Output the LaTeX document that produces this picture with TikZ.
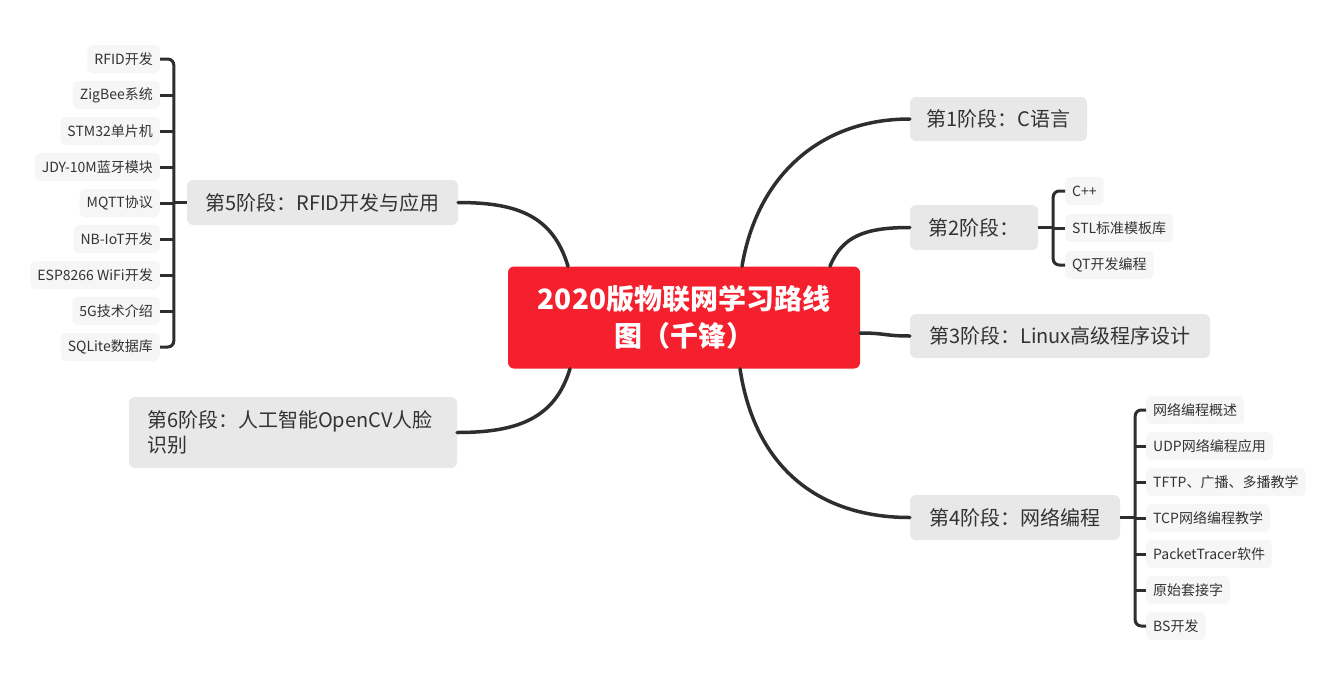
\documentclass[tikz,border=0pt]{standalone}
\usepackage{fontspec}
\setmainfont{Noto Sans CJK SC}
\definecolor{cred}{RGB}{245,32,45}
\definecolor{sgray}{RGB}{232,232,232}
\definecolor{lgray}{RGB}{246,246,246}
\definecolor{tcol}{RGB}{51,51,51}
\definecolor{lcol}{RGB}{46,46,46}
\begin{document}
\begin{tikzpicture}[x=1pt,y=-1pt,
  central/.style={fill=cred, rounded corners=6pt, text=white, font=\fontsize{28}{37}\selectfont\bfseries, align=center, inner sep=0pt},
  stage/.style={fill=sgray, rounded corners=6pt, text=tcol, font=\fontsize{20}{25}\selectfont, inner sep=0pt, align=center},
  leaf/.style={fill=lgray, rounded corners=5pt, text=tcol, font=\fontsize{14}{17}\selectfont, inner xsep=7pt, inner ysep=0pt, minimum height=28pt},
  conn/.style={draw=lcol, line width=3.5pt, line cap=round},
  brk/.style={draw=lcol, line width=3pt, rounded corners=6pt}]
\useasboundingbox (0,0) rectangle (1323,678);

% central
\node[central, minimum width=352pt, minimum height=102pt] (cn) at (684,317.5) {2020版物联网学习路线\\图（千锋）};

% stages
\node[stage, minimum width=177pt, minimum height=44pt] (s1) at (998.5,119) {第1阶段：C语言};
\node[stage, minimum width=128pt, minimum height=45pt] (s2) at (974,227.5) {第2阶段：};
\node[stage, minimum width=300pt, minimum height=44pt] (s3) at (1060,336) {第3阶段：Linux高级程序设计};
\node[stage, minimum width=210pt, minimum height=45pt] (s4) at (1015,517.5) {第4阶段：网络编程};
\node[stage, minimum width=271pt, minimum height=45pt] (s5) at (322.5,202.5) {第5阶段：RFID开发与应用};
\node[stage, minimum width=328pt, minimum height=71pt, align=left, text width=292pt] (s6) at (293,432.5) {第6阶段：人工智能OpenCV人脸\\识别};

% central connectors
\draw[conn] ([xshift=58pt]cn.north) .. controls +(15,-90) and +(-90,0) .. (s1.west);
\draw[conn] ([xshift=146pt]cn.north) .. controls +(12,-30) and +(-45,0) .. (s2.west);
\draw[conn] ([yshift=-15.5pt]cn.east) .. controls +(25,0) and +(-25,0) .. (s3.west);
\draw[conn] ([xshift=56pt]cn.south) .. controls +(15,100) and +(-90,0) .. (s4.west);
\draw[conn] ([xshift=-116pt]cn.north) .. controls +(-15,-50) and +(60,0) .. (s5.east);
\draw[conn] ([xshift=-114pt]cn.south) .. controls +(-15,50) and +(60,0) .. (s6.east);

% stage 2 leaves
\node[leaf, anchor=west] (l21) at (1065,191) {C++};
\node[leaf, anchor=west] (l22) at (1065,228) {STL标准模板库};
\node[leaf, anchor=west] (l23) at (1065,265) {QT开发编程};
\coordinate (b2) at ([xshift=15pt]s2.east);
\draw[conn, line cap=butt] (s2.east) -- (b2);
\draw[brk] (l21.west) -| (b2) |- (l23.west);
\draw[brk] (l22.west) -- (l22.west -| b2);

% stage 4 leaves
\node[leaf, anchor=west] (l41) at (1146,410) {网络编程概述};
\node[leaf, anchor=west] (l42) at (1146,446) {UDP网络编程应用};
\node[leaf, anchor=west] (l43) at (1146,482) {TFTP、广播、多播教学};
\node[leaf, anchor=west] (l44) at (1146,518) {TCP网络编程教学};
\node[leaf, anchor=west] (l45) at (1146,554) {PacketTracer软件};
\node[leaf, anchor=west] (l46) at (1146,590) {原始套接字};
\node[leaf, anchor=west] (l47) at (1146,626) {BS开发};
\coordinate (b4) at ([xshift=15pt]s4.east);
\draw[conn, line cap=butt] (s4.east) -- (b4);
\draw[brk] (l41.west) -| (b4) |- (l47.west);
\foreach \i in {2,...,6} \draw[brk] (l4\i.west) -- (l4\i.west -| b4);

% stage 5 leaves
\node[leaf, anchor=east] (l51) at (160,59) {RFID开发};
\node[leaf, anchor=east] (l52) at (160,95) {ZigBee系统};
\node[leaf, anchor=east] (l53) at (160,131) {STM32单片机};
\node[leaf, anchor=east] (l54) at (160,167) {JDY-10M蓝牙模块};
\node[leaf, anchor=east] (l55) at (160,203) {MQTT协议};
\node[leaf, anchor=east] (l56) at (160,239) {NB-IoT开发};
\node[leaf, anchor=east] (l57) at (160,275) {ESP8266 WiFi开发};
\node[leaf, anchor=east] (l58) at (160,311) {5G技术介绍};
\node[leaf, anchor=east] (l59) at (160,347) {SQLite数据库};
\coordinate (b5) at ([xshift=-13pt]s5.west);
\draw[conn, line cap=butt] (s5.west) -- (b5);
\draw[brk] (l51.east) -| (b5) |- (l59.east);
\foreach \i in {2,...,8} \draw[brk] (l5\i.east) -- (l5\i.east -| b5);
\end{tikzpicture}
\end{document}
